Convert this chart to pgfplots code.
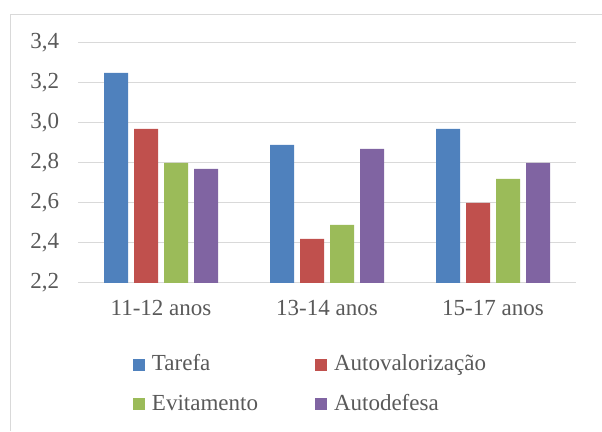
\documentclass[border=0pt]{standalone}
\usepackage{pgfplots}
\pgfplotsset{compat=1.18}
\usepackage{fontspec}
\setmainfont{Liberation Serif}
\definecolor{cBlue}{HTML}{4F81BD}
\definecolor{cRed}{HTML}{C0504D}
\definecolor{cGreen}{HTML}{9BBB59}
\definecolor{cPurple}{HTML}{8064A2}
\definecolor{gridc}{HTML}{D9D9D9}
\definecolor{txt}{HTML}{595959}
\begin{document}
\fontsize{23}{27}\selectfont
\begin{tikzpicture}
\useasboundingbox (0,0) rectangle (602pt,431pt);
\draw[gridc, line width=1pt] (10pt,0) -- (10pt,416pt) -- (602pt,416pt);
\begin{axis}[
  at={(78pt,148pt)}, anchor=south west,
  scale only axis, width=498pt, height=240pt,
  ybar=6pt, bar width=24pt,
  xmin=-0.5, xmax=2.5, ymin=2.2, ymax=3.4,
  xtick={0,1,2}, xticklabels={11-12 anos,13-14 anos,15-17 anos},
  ytick={2.2,2.4,...,3.41},
  ymajorgrids, grid style={gridc, line width=1pt},
  axis x line*=bottom, axis y line*=left,
  x axis line style={gridc, line width=1pt, -},
  y axis line style={draw=none},
  major tick length=0pt,
  tick label style={text=txt, font=\fontsize{23}{27}\selectfont},
  yticklabel style={xshift=-11pt},
  xticklabel style={yshift=-9pt},
  yticklabel={\pgfmathprintnumber[assume math mode=true,use comma,fixed,fixed zerofill,precision=1]{\tick}},
  legend columns=2,
  legend style={at={(0.110,-0.29)}, anchor=north west, draw=none, fill=none,
    font=\fontsize{23}{27}\selectfont, text=txt, inner sep=0pt,
    row sep=16pt, /tikz/every even column/.append style={column sep=55pt}},
  legend cell align=left,
  legend image code/.code={\fill[#1,draw=none] (0pt,-6pt) rectangle (12pt,6pt); \path (17pt,0pt);},
]
\addplot[fill=cBlue, draw=none] coordinates {(0,3.25) (1,2.89) (2,2.97)};
\addplot[fill=cRed, draw=none] coordinates {(0,2.97) (1,2.42) (2,2.60)};
\addplot[fill=cGreen, draw=none] coordinates {(0,2.80) (1,2.49) (2,2.72)};
\addplot[fill=cPurple, draw=none] coordinates {(0,2.77) (1,2.87) (2,2.80)};
\legend{Tarefa,Autovalorização,Evitamento,Autodefesa}
\end{axis}
\end{tikzpicture}
\end{document}
